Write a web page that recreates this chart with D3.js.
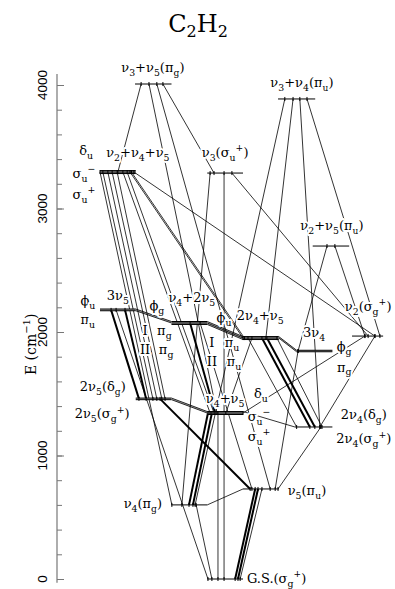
<!DOCTYPE html>
<html><head><meta charset="utf-8">
<script src="https://cdn.jsdelivr.net/npm/d3@7"></script>
<style>body{margin:0;background:#fff}</style>
</head><body>
<svg id="chart" width="395" height="589"></svg>
<script>
// Vibrational levels of C2H2: id, sublevel energies (cm-1), column span in the diagram
const levelIds = ["GS","v4","v5","2v4","v4v5","2v5","3v4","2v4v5","v2","v42v5","3v5","v2v5","v3","v2v4v5","v3v4","v3v5"];
const levelEnergies = [[0],[600],[729],[1231],[1356,1344,1332],[1465,1452],[1852,1840],[1963,1951,1939],[1967],[2085,2073,2061],[2186,2172],[2696],[3287],[3307,3295,3283],[3887],[4008]];
const levelColumns = [[3,4],[2,3],[4,5],[5.45,6.5],[3,4],[1,2],[5.5,6.5],[4,5],[7.05,7.92],[2,3],[0,1],[5.95,6.97],[3,4],[0,1],[4.98,6.02],[0.98,2]];

// Transitions: upper level, column on it, lower level, column on it, strong band
const transitions = [
  ["3v5",0.31,"2v5",1.09,true],
  ["3v5",0.70,"2v5",1.29,true],
  ["2v5",1.68,"v5",4.20,true],
  ["v4v5",3.02,"v4",2.49,true],
  ["v4v5",3.13,"v4",2.60,true],
  ["v5",4.34,"GS",3.78,true],
  ["v5",4.42,"GS",3.86,true],
  ["2v4v5",4.53,"2v4",5.87,true],
  ["2v4v5",4.67,"2v4",6.01,true],
  ["v42v5",2.52,"v4v5",3.22,true],
  ["2v4v5",4.14,"2v4",5.50,false],
  ["2v4v5",4.95,"2v4",6.21,false],
  ["v2v4v5",0.00,"v4",2.01,false],
  ["v2v4v5",0.08,"2v5",1.48,false],
  ["v2v4v5",0.22,"2v5",1.59,false],
  ["v2v4v5",0.34,"2v5",1.73,false],
  ["v2v4v5",0.48,"2v5",1.82,false],
  ["v2v4v5",0.64,"v4v5",3.08,false],
  ["v2v4v5",0.76,"v4v5",3.19,false],
  ["v2v4v5",0.84,"2v4v5",4.00,false],
  ["v2v4v5",0.88,"2v4v5",4.04,false],
  ["v2v4v5",0.95,"v2",7.69,false],
  ["v3v5",1.15,"v2v4v5",0.50,false],
  ["v3v5",1.37,"v4v5",3.27,false],
  ["v3v5",1.59,"v5",4.76,false],
  ["v3v5",1.76,"v3",3.19,false],
  ["v3",3.08,"v4",2.29,false],
  ["v3",3.47,"GS",3.47,false],
  ["v3",3.69,"v2",7.50,false],
  ["v4v5",3.30,"GS",3.30,false],
  ["3v5",0.45,"GS",3.02,false],
  ["v4",2.69,"GS",3.13,false],
  ["v3v4",5.17,"v4",2.66,false],
  ["v3v4",5.40,"2v4v5",4.64,false],
  ["v3v4",5.59,"2v4",6.15,false],
  ["v3v4",5.79,"v2",7.83,false],
  ["v2v5",6.35,"3v4",5.54,false],
  ["v2v5",6.57,"v2",7.41,false],
  ["3v4",5.54,"v5",4.90,false],
  ["2v4",6.18,"v5",4.98,false],
  ["2v4",6.15,"v2",7.69,false],
  ["v2",7.41,"v4v5",4.00,false],
  ["v42v5",2.80,"v5",4.25,false],
  ["2v4v5",4.25,"v4v5",3.52,false],
  ["v5",4.53,"GS",3.92,false]
];

// Neighbouring levels joined end to end (sublevel correlation)
const couplings = [["3v5","v42v5"],["v42v5","2v4v5"],["2v4v5","3v4"],["2v5","v4v5"],["v4v5","2v4"],["v4","v5"]];

// Axis ticks
const majorTicks = [0,1000,2000,3000,4000];
const minorTicks = d3.range(0,4001,200);

// Text annotations: label, column, energy, anchor
const labels = [
  ["ν_3+ν_5(π_g)",1.48,4105,"middle"],
  ["ν_3+ν_4(π_u)",5.65,3984,"middle"],
  ["δ_u",-0.39,3433,"middle"],
  ["ν_2+ν_4+ν_5",1.06,3417,"middle"],
  ["σ_u^−",-0.45,3247,"middle"],
  ["σ_u^+",-0.45,3077,"middle"],
  ["ν_3(σ_u^+)",3.5,3417,"middle"],
  ["ν_2+ν_5(π_u)",6.49,2826,"middle"],
  ["ν_2(σ_g^+)",7.5,2170,"middle"],
  ["ϕ_u",-0.34,2219,"middle"],
  ["π_u",-0.34,2065,"middle"],
  ["3ν_5",0.5,2259,"middle"],
  ["ϕ_g",1.59,2178,"middle"],
  ["ν_4+2ν_5",2.57,2243,"middle"],
  ["I",1.26,1975,"middle"],
  ["π_g",1.8,1975,"middle"],
  ["II",1.26,1825,"middle"],
  ["π_g",1.85,1825,"middle"],
  ["ϕ_u",3.47,2081,"middle"],
  ["2ν_4+ν_5",4.48,2097,"middle"],
  ["I",3.13,1875,"middle"],
  ["π_u",3.69,1875,"middle"],
  ["II",3.13,1725,"middle"],
  ["π_u",3.75,1725,"middle"],
  ["3ν_4",5.99,1960,"middle"],
  ["ϕ_g",6.83,1845,"middle"],
  ["π_g",6.83,1680,"middle"],
  ["ν_4+ν_5",3.5,1425,"middle"],
  ["δ_u",4.5,1468,"middle"],
  ["σ_u^−",4.45,1282,"middle"],
  ["σ_u^+",4.45,1115,"middle"],
  ["2ν_4(δ_g)",7.38,1292,"middle"],
  ["2ν_4(σ_g^+)",7.38,1098,"middle"],
  ["2ν_5(δ_g)",0.08,1520,"middle"],
  ["2ν_5(σ_g^+)",0.06,1300,"middle"],
  ["ν_4(π_g)",1.2,575,"middle"],
  ["ν_5(π_u)",5.79,680,"middle"],
  ["G.S.(σ_g^+)",4.11,-32,"start"]
];

const svg = d3.select("#chart");
const x = d3.scaleLinear().domain([0,8]).range([100,386]);
const y = d3.scaleLinear().domain([0,4000]).range([579,85]);

const levels = new Map(levelIds.map((id,i)=>[id,{id,E:levelEnergies[i],c:levelColumns[i]}]));
const meanE = l => d3.mean(l.E);

// Title
const title = svg.append("text").attr("x",198).attr("y",32).attr("text-anchor","middle")
  .attr("font-family","DejaVu Serif").attr("font-size",24).attr("fill","#000");
title.append("tspan").text("C");
title.append("tspan").attr("dy",5).attr("font-size",16).text("2");
title.append("tspan").attr("dy",-5).text("H");
title.append("tspan").attr("dy",5).attr("font-size",16).text("2");

// Energy axis
const axisG = svg.append("g").attr("transform",`translate(${57},0)`);
axisG.append("line").attr("y1",y(4090)).attr("y2",y(-30)).attr("stroke","#777").attr("stroke-width",1.2);
axisG.call(g=>g.append("g").call(d3.axisLeft(y).tickValues(minorTicks).tickSize(-5).tickSizeOuter(0).tickFormat(""))
  .call(a=>a.select(".domain").remove()).selectAll("line").attr("stroke","#777"));
axisG.call(g=>g.append("g").call(d3.axisLeft(y).tickValues(majorTicks).tickSize(-7).tickSizeOuter(0).tickFormat(""))
  .call(a=>a.select(".domain").remove()).selectAll("line").attr("stroke","#777"));
axisG.selectAll(".tickLabel").data(majorTicks).join("text")
  .attr("transform",d=>`translate(-10,${y(d)}) rotate(-90)`)
  .attr("text-anchor","middle").attr("font-family","Liberation Sans").attr("font-size",13.5)
  .text(d=>d);
const yl = svg.append("text").attr("transform",`translate(36,${y(1900)}) rotate(-90)`)
  .attr("text-anchor","middle").attr("font-family","DejaVu Serif").attr("font-size",14);
yl.append("tspan").text("E (cm");
yl.append("tspan").attr("dy",-6).attr("font-size",10).text("−1");
yl.append("tspan").attr("dy",6).text(")");

// Coupling bands between neighbouring levels
const coupleG = svg.append("g");
couplings.forEach(([a,b])=>{
  const A = levels.get(a), B = levels.get(b);
  const n = Math.min(A.E.length,B.E.length);
  if (n>1) {
    coupleG.append("path").attr("fill","#aaa").attr("d",
      `M${x(A.c[1])},${y(A.E[0])}L${x(B.c[0])},${y(B.E[0])}L${x(B.c[0])},${y(B.E[n-1])}L${x(A.c[1])},${y(A.E[n-1])}Z`);
  }
  for (let k=0;k<n;k++){
    coupleG.append("line").attr("x1",x(A.c[1])).attr("y1",y(A.E[k]))
      .attr("x2",x(B.c[0])).attr("y2",y(B.E[k])).attr("stroke","#000").attr("stroke-width",0.8);
  }
});

// Transitions
const transG = svg.append("g");
transG.selectAll("line").data(transitions).join("line")
  .attr("x1",d=>x(d[1])).attr("y1",d=>y(meanE(levels.get(d[0]))))
  .attr("x2",d=>x(d[3])).attr("y2",d=>y(meanE(levels.get(d[2]))))
  .attr("stroke","#000").attr("stroke-width",d=>d[4]?2:0.8);

// Levels
const levG = svg.append("g");
levels.forEach(l=>{
  if (l.E.length>1) {
    levG.append("rect").attr("x",x(l.c[0])).attr("width",x(l.c[1])-x(l.c[0]))
      .attr("y",y(l.E[0])).attr("height",y(l.E[l.E.length-1])-y(l.E[0])).attr("fill","#aaa");
  }
  l.E.forEach(e=>levG.append("line").attr("x1",x(l.c[0])).attr("x2",x(l.c[1]))
    .attr("y1",y(e)).attr("y2",y(e)).attr("stroke","#000").attr("stroke-width",1));
});
// small ticks where transitions meet the levels
const ends = transitions.flatMap(d=>[[d[0],d[1]],[d[2],d[3]]]);
levG.selectAll(".tk").data(ends).join("line")
  .attr("x1",d=>x(d[1])).attr("x2",d=>x(d[1]))
  .attr("y1",d=>y(meanE(levels.get(d[0])))-2).attr("y2",d=>y(meanE(levels.get(d[0])))+2)
  .attr("stroke","#000").attr("stroke-width",1);

// Labels with sub/superscripts
function rich(sel, str, size){
  const parts=[]; let i=0;
  while(i<str.length){
    const ch=str[i];
    if(ch==="_"||ch==="^"){parts.push({t:str[i+1],s:ch});i+=2;}
    else{let j=i;while(j<str.length&&str[j]!=="_"&&str[j]!=="^")j++;parts.push({t:str.slice(i,j),s:"n"});i=j;}
  }
  let shift=0;
  parts.forEach(p=>{
    const target = p.s==="_"? size*0.3 : p.s==="^"? -size*0.45 : 0;
    sel.append("tspan").attr("dy",target-shift).attr("font-size",p.s==="n"?size:size*0.72).text(p.t);
    shift=target;
  });
}
const labG = svg.append("g").attr("font-family","DejaVu Serif").attr("fill","#000")
  .attr("stroke","#fff").attr("stroke-width",4).attr("stroke-linejoin","round").attr("paint-order","stroke");
labels.forEach(([t,c,e,anc])=>{
  const tx = labG.append("text").attr("x",x(c)).attr("y",y(e)).attr("text-anchor",anc);
  rich(tx,t,13);
});
</script>
</body></html>
